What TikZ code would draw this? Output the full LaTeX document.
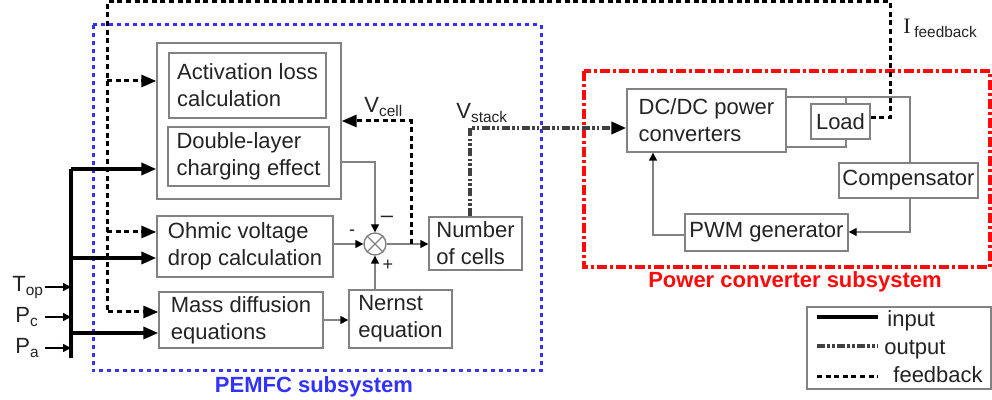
\documentclass[tikz,border=0pt]{standalone}
\usepackage{fontspec}
\setmainfont{Liberation Sans}
\newfontfamily\serifI{Liberation Serif}
\usetikzlibrary{arrows.meta,calc}
\definecolor{boxgray}{RGB}{130,130,130}
\definecolor{txt}{RGB}{35,35,35}
\definecolor{pblue}{RGB}{50,50,255}
\definecolor{pred}{RGB}{255,10,10}
\begin{document}
\begin{tikzpicture}[x=0.5pt,y=-0.5pt,
  font=\fontsize{11}{13.5}\selectfont, text=txt,
  box/.style={draw=boxgray, line width=0.7pt, align=left, inner sep=0pt, text=txt},
  bigtip/.style={-{Triangle[length=7.5pt,width=6pt,color=black]}},
  smalltip/.style={-{Triangle[length=4pt,width=4pt,color=black]}},
  thinln/.style={draw=boxgray, line width=0.7pt},
  inp/.style={line width=1.7pt, black},
  fb/.style={line width=1.5pt, black, dash pattern=on 2.5pt off 1.8pt},
  outp/.style={line width=1.8pt, black!75, dash pattern=on 4pt off 1.2pt on 1.2pt off 1.2pt on 1.2pt off 1.2pt},
  lbl/.style={inner sep=0pt, text=txt}]
\useasboundingbox (0,0) rectangle (992,400);

% subsystem frames
\draw[pblue, line width=1.5pt, dash pattern=on 2pt off 2pt] (93,25) rectangle (541,371);
\draw[pred, line width=1.6pt, dash pattern=on 5pt off 1.5pt on 1.5pt off 1.5pt] (584,71) rectangle (990,267);
\node[lbl, anchor=base, text=pblue, font=\fontsize{11}{13.5}\selectfont\bfseries] (pemlab) at (314,393) {PEMFC subsystem};
\node[lbl, anchor=base, text=pred, font=\fontsize{11}{13.5}\selectfont\bfseries] (pclab) at (795,288) {Power converter subsystem};

% PEMFC blocks
\node[box, minimum width=92pt, minimum height=78pt] (outer) at (249,121) {};
\node[box, minimum width=78.5pt, minimum height=32.5pt] (act) at (247.5,85.5) {Activation loss\\calculation};
\node[box, minimum width=80.5pt, minimum height=29.5pt] (dl) at (248.5,156.5) {Double-layer\\charging effect};
\node[box, minimum width=88pt, minimum height=30.5pt] (ohm) at (245,246.5) {Ohmic voltage\\drop calculation};
\node[box, minimum width=82pt, minimum height=28pt] (mass) at (241,320) {Mass diffusion\\equations};
\node[box, minimum width=51.5pt, minimum height=29pt] (nernst) at (400.5,319) {Nernst\\equation};
\node[box, minimum width=46.5pt, minimum height=26.5pt] (ncells) at (475.5,243.5) {Number\\of cells};
\node[circle, draw=boxgray, line width=0.7pt, minimum size=11pt, inner sep=0pt] (sum) at (375,244) {};
\draw[thinln] (sum.north west) -- (sum.south east) (sum.north east) -- (sum.south west);
\node[lbl] (sgn1) at (387,219) {–};
\node[lbl, font=\fontsize{9}{10}\selectfont] (sgn2) at (352,233) {-};
\node[lbl, font=\fontsize{9}{10}\selectfont] (sgn3) at (388,265) {+};

% power converter blocks
\node[box, minimum width=79.5pt, minimum height=31.5pt] (dcdc) at (706.5,120.5) {DC/DC power\\converters};
\node[box, minimum width=29.5pt, minimum height=17.5pt] (load) at (840.5,121.5) {Load};
\node[box, minimum width=69.5pt, minimum height=17.5pt] (comp) at (908.5,180.5) {Compensator};
\node[box, minimum width=81.5pt, minimum height=18.5pt] (pwm) at (766.5,232.5) {PWM generator};

% internal PEMFC connectors
\coordinate (s1) at (375,162);
\draw[thinln, smalltip] (s1 -| outer.east) -- (s1) -- (sum.north);
\draw[thinln, smalltip] (sum.west -| ohm.east) -- (sum.west);
\draw[thinln, smalltip] (sum.south |- nernst.north) -- (sum.south);
\draw[thinln, smalltip] (mass.east) -- (mass.east -| nernst.west);
\draw[thinln, smalltip] (sum.east) -- (sum.east -| ncells.west);

% V_cell feedback
\coordinate (vc) at (411,121);
\draw[fb, bigtip] (vc |- sum.east) -- (vc) -- (vc -| outer.east);
\node[lbl, anchor=base west] (vcell) at (364,113) {V\textsubscript{cell}};

% V_stack output
\coordinate (vs) at (470,128);
\draw[outp, bigtip] (ncells.north -| vs) -- (vs) -- (vs -| dcdc.west);
\node[lbl, anchor=base west] (vstack) at (456,119) {V\textsubscript{stack}};

% power converter connectors
\coordinate (ld1) at (846,97);
\coordinate (cp1) at (910,97);
\coordinate (ld2) at (846,147);
\draw[thinln] (ld1 -| dcdc.east) -- (cp1) -- (cp1 |- comp.north);
\draw[thinln] (ld1) -- (ld1 |- load.north);
\draw[thinln] (ld2 -| dcdc.east) -- (ld2) -- (ld2 |- load.south);
\coordinate (cp2) at (910,232);
\draw[thinln, smalltip] (cp1 |- comp.south) -- (cp2) -- (cp2 -| pwm.east);
\coordinate (pw) at (653,235);
\draw[thinln, smalltip] (pw -| pwm.west) -- (pw) -- (pw |- dcdc.south);

% feedback current
\coordinate (fL) at (890,118);
\coordinate (fTR) at (890,2);
\coordinate (fTL) at (107,2);
\coordinate (fBL) at (107,312);
\coordinate (fb1) at (107,81);
\coordinate (fb2) at (107,232);
\draw[fb, bigtip] (load.east |- fL) -- (fL) -- (fTR) -- (fTL) -- (fBL) -- (fBL -| mass.west);
\draw[fb, bigtip] (fb1) -- (fb1 -| outer.west);
\draw[fb, bigtip] (fb2) -- (fb2 -| ohm.west);
\node[lbl, anchor=base west] (ifb) at (903,34) {{\serifI I}\,\textsubscript{feedback}};

% inputs
\coordinate (busT) at (71,169);
\coordinate (busB) at (71,358);
\coordinate (b2) at (71,258);
\coordinate (b3) at (71,333);
\draw[inp] (busT) -- (busB);
\draw[inp, bigtip] (busT) -- (busT -| outer.west);
\draw[inp, bigtip] (b2) -- (b2 -| ohm.west);
\draw[inp, bigtip] (b3) -- (b3 -| mass.west);
\node[lbl, anchor=base west] (tin) at (12,292) {T\textsubscript{op}};
\node[lbl, anchor=base west] (pcin) at (15,323) {P\textsubscript{c}};
\node[lbl, anchor=base west] (pain) at (15,354) {P\textsubscript{a}};
\coordinate (a1) at (45,287);
\coordinate (a2) at (45,317);
\coordinate (a3) at (45,348);
\draw[line width=0.7pt, black, smalltip] (a1) -- (a1 -| busT);
\draw[line width=0.7pt, black, smalltip] (a2) -- (a2 -| busT);
\draw[line width=0.7pt, black, smalltip] (a3) -- (a3 -| busT);

% legend
\node[box, minimum width=92pt, minimum height=41pt] (leg) at (899,348) {};
\coordinate (l1a) at (817,317); \coordinate (l1b) at (878,317);
\coordinate (l2a) at (817,346); \coordinate (l2b) at (878,346);
\coordinate (l3a) at (817,377); \coordinate (l3b) at (878,377);
\draw[inp] (l1a) -- (l1b);
\draw[outp] (l2a) -- (l2b);
\draw[fb] (l3a) -- (l3b);
\node[lbl, anchor=base west] (lin) at (887,327) {input};
\node[lbl, anchor=base west] (lout) at (884,355) {output};
\node[lbl, anchor=base west] (lfb) at (893,383) {feedback};
\end{tikzpicture}
\end{document}
